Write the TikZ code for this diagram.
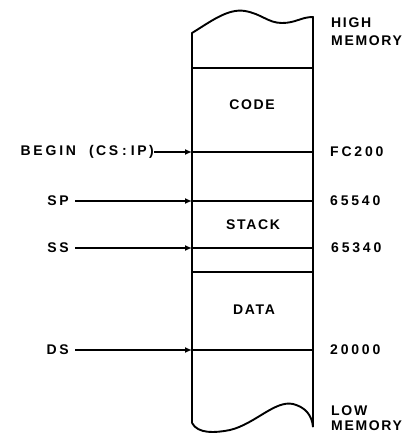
\documentclass[tikz,border=0pt]{standalone}
\usepackage{fontspec}
\setmainfont{Liberation Sans}[LetterSpace=12]
\usetikzlibrary{arrows.meta}
\begin{document}
\begin{tikzpicture}[x=1pt,y=-1pt,
  lbl/.style={font=\bfseries\fontsize{14}{16}\selectfont, inner sep=0pt},
  wide/.style={font=\bfseries\fontsize{14}{16}\selectfont\addfontfeature{LetterSpace=20}, inner sep=0pt},
  wall/.style={line width=1.9pt, line join=round},
  sepline/.style={line width=1.4pt},
  thickline/.style={line width=2.4pt},
  ptr/.style={line width=1.4pt, -{Latex[length=7pt,width=6pt]}}]
\useasboundingbox (0,0) rectangle (406,433);
% column outline with wavy ends
\draw[wall] (192,423) -- (192,33)
  .. controls (210,22) and (228,8) .. (245,11)
  .. controls (262,14) and (268,23) .. (282,23)
  .. controls (296,23) and (301,17) .. (313,17) -- (313,427);
\draw[wall] (192,423) .. controls (198,434) and (215,433) .. (230,430)
  .. controls (255,424) and (275,400) .. (293,404)
  .. controls (305,407) and (312,415) .. (313,427);
% coordinates on the column edges
\coordinate (l68) at (192,68);   \coordinate (r68) at (313,68);
\coordinate (cs) at (192,152);   \coordinate (rcs) at (313,152);
\coordinate (sp) at (192,201);   \coordinate (rsp) at (313,201);
\coordinate (ss) at (192,248);   \coordinate (rss) at (313,248);
\coordinate (l272) at (192,272); \coordinate (r272) at (313,272);
\coordinate (ds) at (192,350);   \coordinate (rds) at (313,350);
% separators
\draw[sepline] (l68) -- (r68);
\draw[sepline] (cs) -- (rcs);
\draw[sepline] (sp) -- (rsp);
\draw[sepline] (ss) -- (rss);
\draw[thickline] (l272) -- (r272);
\draw[sepline] (ds) -- (rds);
% region labels
\node[lbl] (code) at (252,105) {CODE};
\node[lbl] (stack) at (253,225) {STACK};
\node[lbl] (data) at (254,310) {DATA};
% right labels
\node[lbl, anchor=west] (high) at (331,23) {HIGH};
\node[lbl, anchor=west] (highm) at (331,41) {MEMORY};
\node[wide, anchor=west] (fc) at (330,152) {FC200};
\node[wide, anchor=west] (a1) at (330,201) {65540};
\node[wide, anchor=west] (a2) at (331,248) {65340};
\node[wide, anchor=west] (a3) at (330,350) {20000};
\node[lbl, anchor=west] (low) at (331,411) {LOW};
\node[lbl, anchor=west] (lowm) at (331,425.5) {MEMORY};
% left labels and pointers
\node[wide, anchor=east] (begin) at (154,152) {BEGIN\hspace{13pt}(\,CS\;:\;IP\,)};
\node[wide, anchor=east] (spl) at (69,201) {SP};
\node[wide, anchor=east] (ssl) at (69,248) {SS};
\node[wide, anchor=east] (dsl) at (69,350) {DS};
\draw[ptr] (begin) -- (cs);
\draw[ptr, shorten <=6pt] (spl) -- (sp);
\draw[ptr, shorten <=6pt] (ssl) -- (ss);
\draw[ptr, shorten <=6pt] (dsl) -- (ds);
\end{tikzpicture}
\end{document}
